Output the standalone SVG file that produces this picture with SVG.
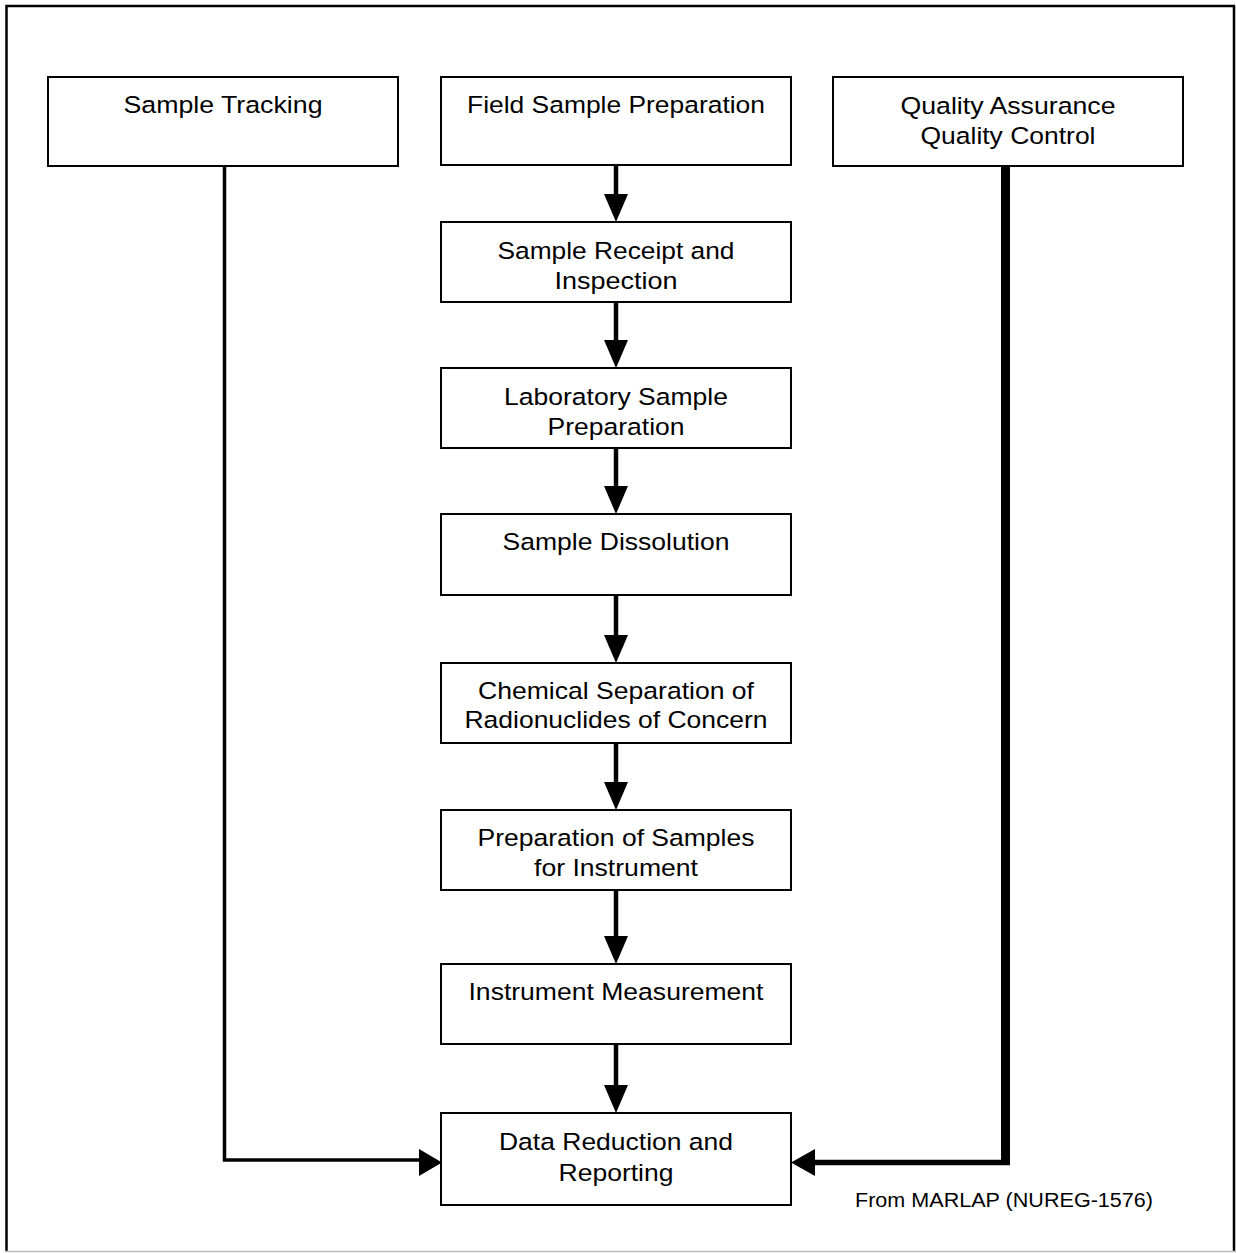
<svg xmlns="http://www.w3.org/2000/svg" width="1236" height="1253" viewBox="0 0 1236 1253">
<style>
.box{fill:#fff;stroke:#000;stroke-width:2}
.t{font-family:"Liberation Sans",Arial,sans-serif;font-size:24.5px;fill:#000;text-anchor:middle}
.n{font-family:"Liberation Sans",Arial,sans-serif;font-size:20px;fill:#000}
.ln{fill:none;stroke:#000;stroke-width:4.5}
.head{fill:#000}
</style>
<rect x="0" y="0" width="1236" height="1253" fill="#fff"/>
<g id="frame">
<polyline points="6.5,1251 6.5,6 1234,6 1234,1251" fill="none" stroke="#000" stroke-width="2.5"/>
<line x1="5" y1="1251.5" x2="1236" y2="1251.5" stroke="#bbb" stroke-width="1.5"/>
</g>
<g id="connectors">
<line class="ln" x1="616" y1="165" x2="616" y2="196"/>
<polygon class="head" points="604,194 628,194 616,222"/>
<line class="ln" x1="616" y1="302" x2="616" y2="342"/>
<polygon class="head" points="604,340 628,340 616,368"/>
<line class="ln" x1="616" y1="448" x2="616" y2="488"/>
<polygon class="head" points="604,486 628,486 616,514"/>
<line class="ln" x1="616" y1="595" x2="616" y2="637"/>
<polygon class="head" points="604,635 628,635 616,663"/>
<line class="ln" x1="616" y1="743" x2="616" y2="784"/>
<polygon class="head" points="604,782 628,782 616,810"/>
<line class="ln" x1="616" y1="890" x2="616" y2="938"/>
<polygon class="head" points="604,936 628,936 616,964"/>
<line class="ln" x1="616" y1="1044" x2="616" y2="1087"/>
<polygon class="head" points="604,1085 628,1085 616,1113"/>
<polyline fill="none" stroke="#000" stroke-width="3.5" points="224.5,166 224.5,1160 421,1160"/>
<polygon class="head" points="419,1149 419,1176 442,1162.5"/>
<polyline fill="none" stroke="#000" stroke-width="9" points="1005.5,166 1005.5,1162.5"/>
<line x1="813" y1="1162.5" x2="1010" y2="1162.5" stroke="#000" stroke-width="5.5"/>
<polygon class="head" points="815,1149 815,1176 791,1162.5"/>
</g>
<g id="sample-tracking">
<rect class="box" x="48" y="77" width="350" height="89"/>
<text class="t" x="223" y="113" textLength="199" lengthAdjust="spacingAndGlyphs">Sample Tracking</text>
</g>
<g id="field-sample-preparation">
<rect class="box" x="441" y="77" width="350" height="88"/>
<text class="t" x="616" y="113" textLength="298" lengthAdjust="spacingAndGlyphs">Field Sample Preparation</text>
</g>
<g id="qa-qc">
<rect class="box" x="833" y="77" width="350" height="89"/>
<text class="t" x="1008" y="113.5" textLength="215" lengthAdjust="spacingAndGlyphs">Quality Assurance</text>
<text class="t" x="1008" y="144" textLength="175" lengthAdjust="spacingAndGlyphs">Quality Control</text>
</g>
<g id="sample-receipt">
<rect class="box" x="441" y="222" width="350" height="80"/>
<text class="t" x="616" y="259" textLength="237" lengthAdjust="spacingAndGlyphs">Sample Receipt and</text>
<text class="t" x="616" y="289" textLength="123" lengthAdjust="spacingAndGlyphs">Inspection</text>
</g>
<g id="lab-sample-preparation">
<rect class="box" x="441" y="368" width="350" height="80"/>
<text class="t" x="616" y="405" textLength="224" lengthAdjust="spacingAndGlyphs">Laboratory Sample</text>
<text class="t" x="616" y="435" textLength="137" lengthAdjust="spacingAndGlyphs">Preparation</text>
</g>
<g id="sample-dissolution">
<rect class="box" x="441" y="514" width="350" height="81"/>
<text class="t" x="616" y="549.5" textLength="227" lengthAdjust="spacingAndGlyphs">Sample Dissolution</text>
</g>
<g id="chemical-separation">
<rect class="box" x="441" y="663" width="350" height="80"/>
<text class="t" x="616" y="698.5" textLength="276" lengthAdjust="spacingAndGlyphs">Chemical Separation of</text>
<text class="t" x="616" y="728" textLength="303" lengthAdjust="spacingAndGlyphs">Radionuclides of Concern</text>
</g>
<g id="preparation-for-instrument">
<rect class="box" x="441" y="810" width="350" height="80"/>
<text class="t" x="616" y="846" textLength="277" lengthAdjust="spacingAndGlyphs">Preparation of Samples</text>
<text class="t" x="616" y="876" textLength="164" lengthAdjust="spacingAndGlyphs">for Instrument</text>
</g>
<g id="instrument-measurement">
<rect class="box" x="441" y="964" width="350" height="80"/>
<text class="t" x="616" y="999.5" textLength="295" lengthAdjust="spacingAndGlyphs">Instrument Measurement</text>
</g>
<g id="data-reduction">
<rect class="box" x="441" y="1113" width="350" height="92"/>
<text class="t" x="616" y="1150" textLength="234" lengthAdjust="spacingAndGlyphs">Data Reduction and</text>
<text class="t" x="616" y="1180.5" textLength="115" lengthAdjust="spacingAndGlyphs">Reporting</text>
</g>
<g id="source-note">
<text class="n" x="855" y="1207" textLength="298" lengthAdjust="spacingAndGlyphs">From MARLAP (NUREG-1576)</text>
</g>
</svg>
